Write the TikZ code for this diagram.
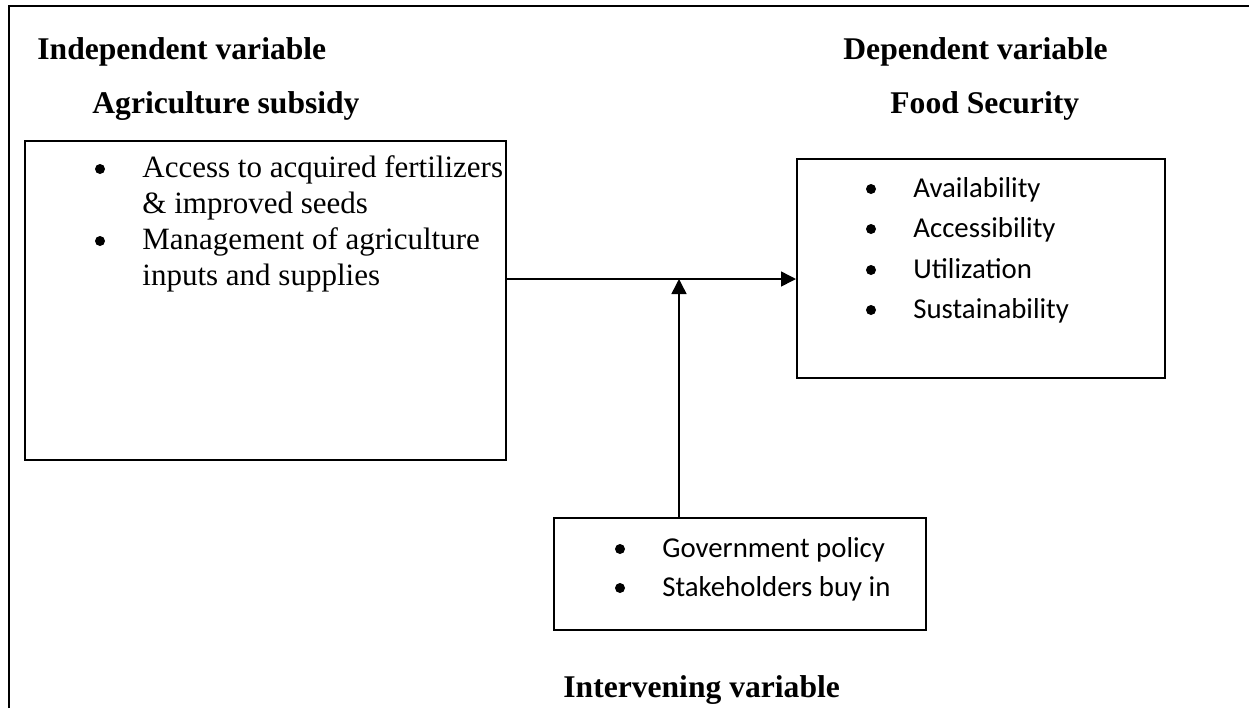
\documentclass[tikz,border=0pt]{standalone}
\usepackage{fontspec}
\setmainfont{Liberation Serif}
\newfontfamily\calibri{Carlito}
\usetikzlibrary{arrows.meta}
\begin{document}
\begin{tikzpicture}[x=0.5pt,y=-0.5pt,
  tnr/.style={font=\fontsize{15.5pt}{18pt}\selectfont, anchor=base west, inner sep=0pt},
  ttl/.style={font=\fontsize{15.8pt}{18pt}\selectfont\bfseries, anchor=base west, inner sep=0pt},
  cal/.style={font=\calibri\fontsize{14.4pt}{17pt}\selectfont, anchor=base west, inner sep=0pt},
  dot/.style={circle, fill, inner sep=0pt, minimum size=5pt},
  box/.style={draw, line width=1pt, anchor=north west, inner sep=0pt},
  arr/.style={line width=0.75pt, -{Triangle[length=7.5pt,width=7.5pt]}}]
\useasboundingbox (0,0) rectangle (1249,708);
\draw[line width=1.2pt] (9,708) -- (9,6) -- (1249,6);
% titles
\node[ttl] (t1) at (37,59) {Independent variable};
\node[ttl] (t2) at (92,113) {Agriculture subsidy};
\node[ttl] (t3) at (843,59) {Dependent variable};
\node[ttl] (t4) at (890,113) {Food Security};
\node[ttl] (t5) at (563,697) {Intervening variable};
% boxes
\node[box, minimum width=240.5pt, minimum height=159.5pt] (L) at (24,140) {};
\node[box, minimum width=184pt, minimum height=109.5pt] (R) at (796,158) {};
\node[box, minimum width=186pt, minimum height=56pt] (I) at (553,517) {};
% left list
\node[dot] (lb1) at (100,169) {};
\node[tnr] (l1) at (142,177) {Access to acquired fertilizers};
\node[tnr] (l2) at (142,213) {\& improved seeds};
\node[dot] (lb2) at (100,241) {};
\node[tnr] (l3) at (142,249) {Management of agriculture};
\node[tnr] (l4) at (142,285) {inputs and supplies};
% right list
\node[dot] (rb1) at (871,189) {};
\node[cal] (r1) at (913,197) {Availability};
\node[dot] (rb2) at (871,229) {};
\node[cal] (r2) at (913,237) {Accessibility};
\node[dot] (rb3) at (871,270) {};
\node[cal] (r3) at (913,278) {Utilization};
\node[dot] (rb4) at (871,310) {};
\node[cal] (r4) at (913,318) {Sustainability};
% intervening list
\node[dot] (ib1) at (620,549) {};
\node[cal] (i1) at (662,557) {Government policy};
\node[dot] (ib2) at (620,588) {};
\node[cal] (i2) at (662,596) {Stakeholders buy in};
% connectors
\coordinate (m) at (679,279);
\draw[arr] (L.east |- m) -- (R.west |- m);
\draw[arr] (I.north -| m) -- (m);
\end{tikzpicture}
\end{document}
